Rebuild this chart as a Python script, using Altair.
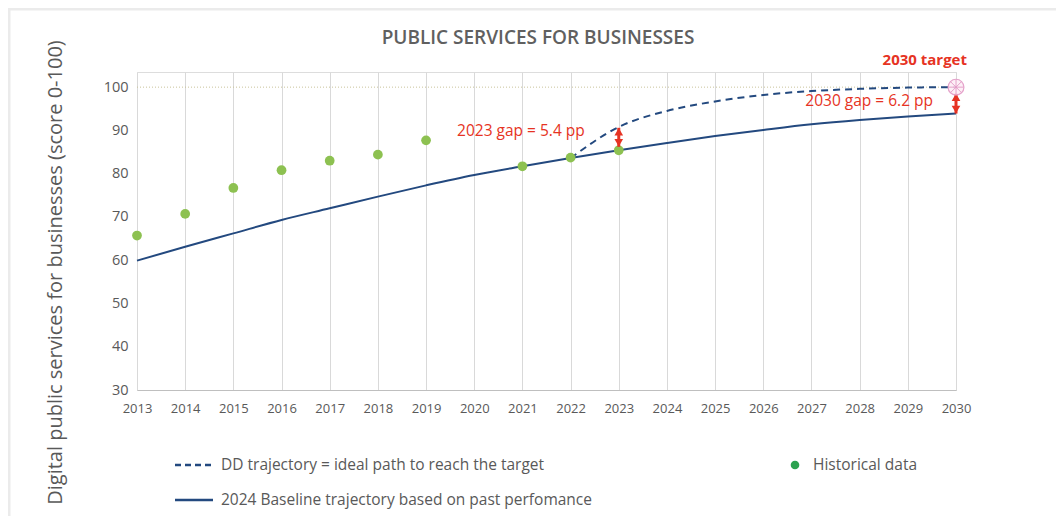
import altair as alt
import pandas as pd

FONT = "Open Sans"
NAVY = "#23497f"
GREEN = "#8dc151"
RED = "#e63323"
GREY = "#595959"

years = list(range(2013, 2031))
hist_years = [2013, 2014, 2015, 2016, 2017, 2018, 2019, 2021, 2022, 2023]
hist_values = [65.7, 70.7, 76.7, 80.8, 83.0, 84.4, 87.7, 81.7, 83.7, 85.4]
base_values = [59.9, 63.1, 66.2, 69.3, 72.0, 74.7, 77.3, 79.7, 81.7, 83.6,
               85.4, 87.1, 88.7, 90.1, 91.4, 92.4, 93.2, 93.9]
dd_years = [2022, 2023, 2024, 2025, 2026, 2027, 2028, 2029, 2030]
dd_values = [83.6, 90.8, 94.5, 96.7, 98.2, 99.1, 99.6, 99.9, 100.0]
gap_years = [2023, 2030]
gap_low = [86.2, 93.9]
gap_high = [90.6, 98.6]
gap_labels = ["2023 gap = 5.4 pp", "2030 gap = 6.2 pp"]
gap_label_y = [89.8, 96.8]
target_year = [2030]
target_value = [100]
y_ticks = [30, 40, 50, 60, 70, 80, 90, 100]
title_text = "PUBLIC SERVICES FOR BUSINESSES"

hist_df = pd.DataFrame({"year": hist_years, "value": hist_values})
base_df = pd.DataFrame({"year": years, "value": base_values})
dd_df = pd.DataFrame({"year": dd_years, "value": dd_values})
gap_df = pd.DataFrame({"year": gap_years, "low": gap_low, "high": gap_high,
                       "label": gap_labels, "ly": gap_label_y})
target_df = pd.DataFrame({"year": target_year, "value": target_value})
ref_df = pd.DataFrame({"year": [years[0]], "year2": [years[-1]], "value": [100]})

xscale = alt.Scale(domain=[2013, 2030], nice=False, zero=False)
yscale = alt.Scale(domain=[30, 103.5], nice=False, zero=False)

X = alt.X("year:Q", scale=xscale, axis=alt.Axis(
    values=years, format="d", grid=True, gridColor="#d9d9d9", ticks=False,
    labelPadding=12, labelFontSize=13, labelColor=GREY, labelFont=FONT,
    domainColor="#bfbfbf", title=None, labelFlush=False))
Y = alt.Y("value:Q", scale=yscale, axis=alt.Axis(
    values=y_ticks, grid=False, domain=False, ticks=False, labelPadding=9,
    labelFontSize=14.5, labelColor=GREY, labelFont=FONT,
    title="Digital public services for businesses (score 0-100)",
    titleFontSize=20, titleFont=FONT, titleColor=GREY, titleFontWeight="normal",
    titleX=-82, titleY=200, titleAngle=270, titleAlign="center", titleBaseline="middle"))

ref_line = alt.Chart(ref_df).mark_rule(color="#c9c39a", strokeDash=[1, 2], strokeWidth=1).encode(
    x=alt.X("year:Q", scale=xscale), x2="year2:Q", y=alt.Y("value:Q", scale=yscale))

base_line = alt.Chart(base_df).mark_line(color=NAVY, strokeWidth=2, interpolate="monotone").encode(x=X, y=Y)
dd_line = alt.Chart(dd_df).mark_line(color=NAVY, strokeWidth=2, strokeDash=[7, 5],
                                     interpolate="monotone").encode(
    x=alt.X("year:Q", scale=xscale), y=alt.Y("value:Q", scale=yscale))
hist_pts = alt.Chart(hist_df).mark_point(filled=True, color=GREEN, size=95, opacity=1).encode(
    x=alt.X("year:Q", scale=xscale), y=alt.Y("value:Q", scale=yscale))

gx = alt.X("year:Q", scale=xscale)
arrow_shaft = alt.Chart(gap_df).mark_rule(color=RED, strokeWidth=3).encode(
    x=gx, y=alt.Y("low:Q", scale=yscale), y2="high:Q")
arrow_up = alt.Chart(gap_df).mark_point(shape="triangle-up", filled=True, color=RED,
                                        size=75, opacity=1, yOffset=4).encode(
    x=gx, y=alt.Y("high:Q", scale=yscale))
arrow_down = alt.Chart(gap_df).mark_point(shape="triangle-down", filled=True, color=RED,
                                          size=75, opacity=1, yOffset=-4).encode(
    x=gx, y=alt.Y("low:Q", scale=yscale))
gap_text_a = alt.Chart(gap_df).transform_filter("datum.year == 2023").mark_text(
    color=RED, fontSize=15.5, font=FONT, align="right", baseline="middle", dx=-34).encode(
    x=gx, y=alt.Y("ly:Q", scale=yscale), text="label:N")
gap_text_b = alt.Chart(gap_df).transform_filter("datum.year == 2030").mark_text(
    color=RED, fontSize=15.5, font=FONT, align="right", baseline="middle", dx=-23).encode(
    x=gx, y=alt.Y("ly:Q", scale=yscale), text="label:N")

target_circle = alt.Chart(target_df).mark_point(shape="circle", filled=True, fill="#fdeef6",
                                                stroke="#e39ac6", strokeWidth=1.2, size=250,
                                                opacity=0.9).encode(
    x=alt.X("year:Q", scale=xscale), y=alt.Y("value:Q", scale=yscale))
target_star = alt.Chart(target_df).mark_point(
    shape="M-1,0L1,0M0,-1L0,1M-0.7,-0.7L0.7,0.7M-0.7,0.7L0.7,-0.7",
    filled=False, stroke="#e39ac6", strokeWidth=0.9, size=230, opacity=1).encode(
    x=alt.X("year:Q", scale=xscale), y=alt.Y("value:Q", scale=yscale))
target_text = alt.Chart(target_df).mark_text(
    text="2030 target", color=RED, fontSize=15, fontWeight="bold", font=FONT,
    align="right", baseline="middle", dx=11, dy=-27).encode(
    x=alt.X("year:Q", scale=xscale), y=alt.Y("value:Q", scale=yscale))

one = pd.DataFrame({"k": [0]})
title_mark = alt.Chart(one).mark_text(text=title_text, fontSize=19, font=FONT, color="#606060",
                                      fontWeight=600, align="center", baseline="middle").encode(
    x=alt.value(401), y=alt.value(-34))
leg_dd = alt.Chart(one).mark_rule(color=NAVY, strokeWidth=2.5, strokeDash=[6, 4]).encode(
    x=alt.value(38), x2=alt.value(76), y=alt.value(393))
leg_dd_t = alt.Chart(one).mark_text(text="DD trajectory = ideal path to reach the target",
                                    align="left", baseline="middle", fontSize=15.5,
                                    font=FONT, color=GREY).encode(
    x=alt.value(84), y=alt.value(393))
leg_base = alt.Chart(one).mark_rule(color=NAVY, strokeWidth=2.5).encode(
    x=alt.value(38), x2=alt.value(76), y=alt.value(428))
leg_base_t = alt.Chart(one).mark_text(text="2024 Baseline trajectory based on past perfomance",
                                      align="left", baseline="middle", fontSize=15.5,
                                      font=FONT, color=GREY).encode(
    x=alt.value(84), y=alt.value(428))
leg_hist = alt.Chart(one).mark_point(filled=True, color="#2ca24f", size=75, opacity=1).encode(
    x=alt.value(658), y=alt.value(393))
leg_hist_t = alt.Chart(one).mark_text(text="Historical data", align="left", baseline="middle",
                                      fontSize=15.5, font=FONT, color=GREY).encode(
    x=alt.value(676), y=alt.value(393))

frame_top = alt.Chart(one).mark_rule(color="#ebebeb", strokeWidth=3).encode(
    x=alt.value(-129), x2=alt.value(920), y=alt.value(-63))
frame_left = alt.Chart(one).mark_rule(color="#ebebeb", strokeWidth=3).encode(
    x=alt.value(-128), y=alt.value(-64), y2=alt.value(450))

chart = alt.layer(
    frame_top, frame_left, ref_line, base_line, dd_line, hist_pts,
    arrow_shaft, arrow_up, arrow_down, gap_text_a, gap_text_b,
    target_circle, target_star, target_text, title_mark,
    leg_dd, leg_dd_t, leg_base, leg_base_t, leg_hist, leg_hist_t,
).properties(
    width=819, height=318,
    autosize=alt.AutoSizeParams(type="none"),
    padding={"left": 129, "top": 64, "right": 100, "bottom": 126},
).configure_view(stroke=None).configure(background="white")

chart.save("out.html", embed_options={"renderer": "svg", "actions": False})
